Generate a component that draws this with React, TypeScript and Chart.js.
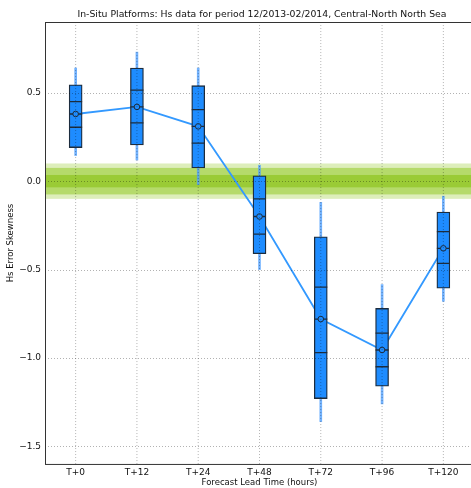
import React, { useEffect, useRef } from "react";
import { Chart, registerables } from "chart.js";

Chart.register(...registerables);

const categories = ["T+0", "T+12", "T+24", "T+48", "T+72", "T+96", "T+120"];
const whiskerHigh = [0.64, 0.73, 0.64, 0.09, -0.12, -0.585, -0.085];
const boxHigh = [0.545, 0.64, 0.54, 0.03, -0.315, -0.72, -0.175];
const upperLine = [0.45, 0.515, 0.405, -0.1, -0.6, -0.86, -0.285];
const meanValues = [0.38, 0.42, 0.31, -0.2, -0.78, -0.955, -0.38];
const lowerLine = [0.305, 0.33, 0.215, -0.3, -0.97, -1.05, -0.465];
const boxLow = [0.19, 0.205, 0.075, -0.41, -1.23, -1.16, -0.605];
const whiskerLow = [0.145, 0.12, -0.02, -0.5, -1.36, -1.26, -0.68];
const yTickValues = [-1.5, -1.0, -0.5, 0.0, 0.5];
const bandLevels = [0.1, 0.075, 0.035];
const bandColors = ["#ddeebb", "#b5da6b", "#9acb36"];

const FONT = "'DejaVu Sans', sans-serif";
const BOX_BLUE = "#1e8cff";
const EDGE = "#1c2c3e";

const bandsPlugin = {
  id: "bands",
  beforeDatasetsDraw(chart: any) {
    const { ctx, chartArea } = chart;
    const y = chart.scales.y;
    ctx.save();
    bandLevels.forEach((lv, i) => {
      const top = y.getPixelForValue(lv);
      const bot = y.getPixelForValue(-lv);
      ctx.fillStyle = bandColors[i];
      ctx.fillRect(chartArea.left, top, chartArea.right - chartArea.left, bot - top);
    });
    ctx.restore();
  },
};

const gridPlugin = {
  id: "gridOver",
  afterDatasetsDraw(chart: any) {
    const { ctx, chartArea } = chart;
    const x = chart.scales.x;
    const y = chart.scales.y;
    ctx.save();
    ctx.strokeStyle = "rgba(0,0,0,0.3)";
    ctx.lineWidth = 1;
    ctx.setLineDash([1, 2]);
    yTickValues.forEach((v) => {
      const py = Math.round(y.getPixelForValue(v)) + 0.5;
      ctx.beginPath();
      ctx.moveTo(chartArea.left, py);
      ctx.lineTo(chartArea.right, py);
      ctx.stroke();
    });
    categories.forEach((_, i) => {
      const px = x.getPixelForValue(i);
      ctx.beginPath();
      ctx.moveTo(px, chartArea.top);
      ctx.lineTo(px, chartArea.bottom);
      ctx.stroke();
    });
    ctx.setLineDash([]);
    ctx.strokeStyle = "#333";
    ctx.lineWidth = 1;
    ctx.strokeRect(
      Math.round(chartArea.left) + 0.5,
      Math.round(chartArea.top) + 0.5,
      chartArea.right - chartArea.left,
      chartArea.bottom - chartArea.top
    );
    ctx.restore();
  },
};

export default function App() {
  const ref = useRef<HTMLCanvasElement>(null);
  useEffect(() => {
    document.body.style.margin = "0";
    const canvas = ref.current;
    if (!canvas) return;
    const tickPoint = (data: number[], order: number) => ({
      type: "line" as const,
      data,
      showLine: false,
      pointStyle: "line",
      pointRadius: 6.5,
      pointHoverRadius: 6.5,
      pointBorderColor: EDGE,
      pointBorderWidth: 1.3,
      order,
    });
    const chart = new Chart(canvas, {
      type: "bar",
      data: {
        labels: categories,
        datasets: [
          {
            type: "line",
            data: meanValues,
            borderColor: "#3399ff",
            borderWidth: 1.8,
            pointRadius: 0,
            order: 10,
          } as any,
          {
            type: "bar",
            data: categories.map((_, i) => [whiskerLow[i], whiskerHigh[i]]),
            backgroundColor: "rgba(80,160,255,0.8)",
            borderWidth: 0,
            barThickness: 2,
            grouped: false,
            order: 9,
          } as any,
          {
            type: "bar",
            data: categories.map((_, i) => [boxLow[i], boxHigh[i]]),
            backgroundColor: BOX_BLUE,
            borderColor: EDGE,
            borderWidth: 1.3,
            borderSkipped: false,
            barThickness: 13,
            grouped: false,
            order: 8,
          } as any,
          tickPoint(upperLine, 5) as any,
          tickPoint(lowerLine, 5) as any,
          tickPoint(meanValues, 4) as any,
          {
            type: "line",
            data: meanValues,
            showLine: false,
            pointStyle: "circle",
            pointRadius: 2.8,
            pointBackgroundColor: BOX_BLUE,
            pointBorderColor: EDGE,
            pointBorderWidth: 1,
            order: 1,
          } as any,
        ],
      },
      options: {
        animation: false,
        responsive: false,
        events: [],
        layout: { padding: 0 },
        plugins: {
          legend: { display: false },
          tooltip: { enabled: false },
          title: {
            display: true,
            text: "In-Situ Platforms: Hs data for period 12/2013-02/2014, Central-North North Sea",
            color: "#111",
            font: { family: FONT, size: 9.3, weight: "normal" },
            padding: { top: 9.3, bottom: 1.6 },
          },
        },
        scales: {
          x: {
            type: "category",
            offset: true,
            grid: { display: false, drawTicks: false },
            border: { display: false },
            ticks: { color: "#111", font: { family: FONT, size: 9 }, padding: 3, maxRotation: 0 },
            title: {
              display: true,
              text: "Forecast Lead Time (hours)",
              color: "#111",
              font: { family: FONT, size: 8.5 },
              padding: { top: 0, bottom: 0 },
            },
            afterFit(scale: any) {
              scale.height = 24;
            },
          },
          y: {
            type: "linear",
            position: "left",
            min: -1.6,
            max: 0.9,
            grid: { display: false, drawTicks: false },
            border: { display: false },
            afterBuildTicks(scale: any) {
              scale.ticks = yTickValues.map((v) => ({ value: v }));
            },
            ticks: {
              color: "#111",
              font: { family: FONT, size: 9 },
              padding: 4,
              callback: (v: any) => {
                const n = Number(v);
                const s = Math.abs(n).toFixed(1);
                return n < 0 ? "\u2212" + s : s;
              },
            },
            title: {
              display: true,
              text: "Hs Error Skewness",
              color: "#111",
              font: { family: FONT, size: 8.5 },
              padding: { top: 6, bottom: 0 },
            },
            afterFit(scale: any) {
              scale.width = 45;
            },
          },
          yRight: {
            type: "linear",
            position: "right",
            min: -1.6,
            max: 0.9,
            grid: { display: false, drawTicks: false },
            border: { display: false },
            ticks: { display: false },
            afterFit(scale: any) {
              scale.width = 50;
            },
          },
        },
      },
      plugins: [bandsPlugin, gridPlugin],
    } as any);
    return () => chart.destroy();
  }, []);
  return (
    <div style={{ width: 471, height: 488, overflow: "hidden", position: "relative" }}>
      <canvas ref={ref} width={524} height={488} style={{ width: 524, height: 488, display: "block" }} />
    </div>
  );
}
